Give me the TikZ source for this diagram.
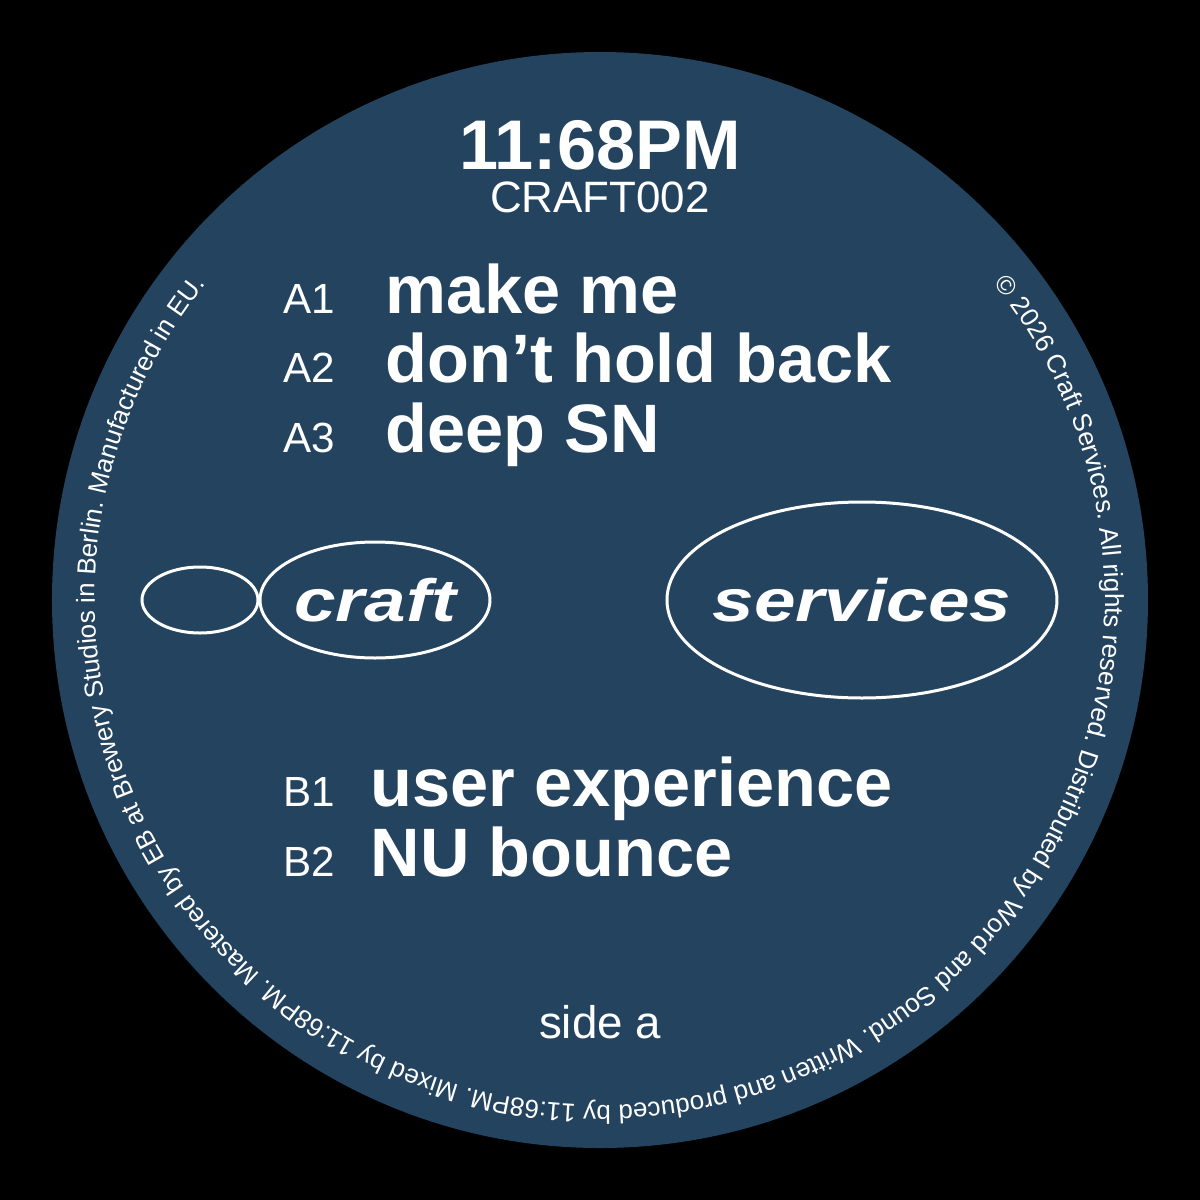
\documentclass[tikz,border=0pt]{standalone}
\usepackage{fontspec}
\setmainfont{Liberation Sans}
\usetikzlibrary{decorations.text}
\definecolor{labelblue}{HTML}{24435F}
\tikzset{
  side/.style={text=white,font=\fontsize{12}{14}\selectfont,anchor=base west,inner sep=0pt},
  track/.style={text=white,font=\bfseries\fontsize{19.5}{22}\selectfont,anchor=base west,inner sep=0pt},
  logo/.style={draw=white,line width=.3mm},
}
\begin{document}
\begin{tikzpicture}
\fill[black] (-6,-6) rectangle (6,6);
\fill[labelblue] (0,0) circle (5.48);
% header
\node[text=white,font=\bfseries\fontsize{20}{24}\selectfont] (title) at (0,4.55) {11:68PM};
\node[text=white,font=\fontsize{12.5}{14}\selectfont] (cat) at (0,4.03) {CRAFT002};
% side a
\node[side] (a1) at (-3.17,2.87) {A1};
\node[side] (a2) at (-3.17,2.18) {A2};
\node[side] (a3) at (-3.17,1.48) {A3};
\node[track] (ta1) at (-2.15,2.87) {make me};
\node[track] (ta2) at (-2.15,2.18) {don’t hold back};
\node[track] (ta3) at (-2.15,1.48) {deep SN};
% side b
\node[side] (b1) at (-3.17,-2.06) {B1};
\node[side] (b2) at (-3.17,-2.76) {B2};
\node[track] (tb1) at (-2.30,-2.06) {user experience};
\node[track] (tb2) at (-2.30,-2.76) {NU bounce};
% logo
\draw[logo] (-4.0,0) ellipse (0.58 and 0.33);
\draw[logo] (-2.25,0) ellipse (1.15 and 0.58);
\draw[logo] (2.62,0) ellipse (1.95 and 0.98);
\node[text=white,font=\bfseries\itshape\fontsize{17}{20}\selectfont,xscale=1.25] (craft) at (-2.25,0) {craft};
\node[text=white,font=\bfseries\itshape\fontsize{17}{20}\selectfont,xscale=1.25] (services) at (2.62,0) {services};
\node[text=white,font=\fontsize{13}{15}\selectfont] (sidea) at (0,-4.22) {side a};
% rim text
\path[decorate,decoration={text along path,text align=center,text color=white,
  text={|\fontsize{7.4}{9}\selectfont|© 2026 Craft Services. All rights reserved. Distributed by Word and Sound. Written and produced by 11:68PM. Mixed by 11:68PM. Mastered by EB at Brewery Studios in Berlin. Manufactured in EU.}}]
  (60:5.05) arc (60:-240:5.05);
\end{tikzpicture}
\end{document}
